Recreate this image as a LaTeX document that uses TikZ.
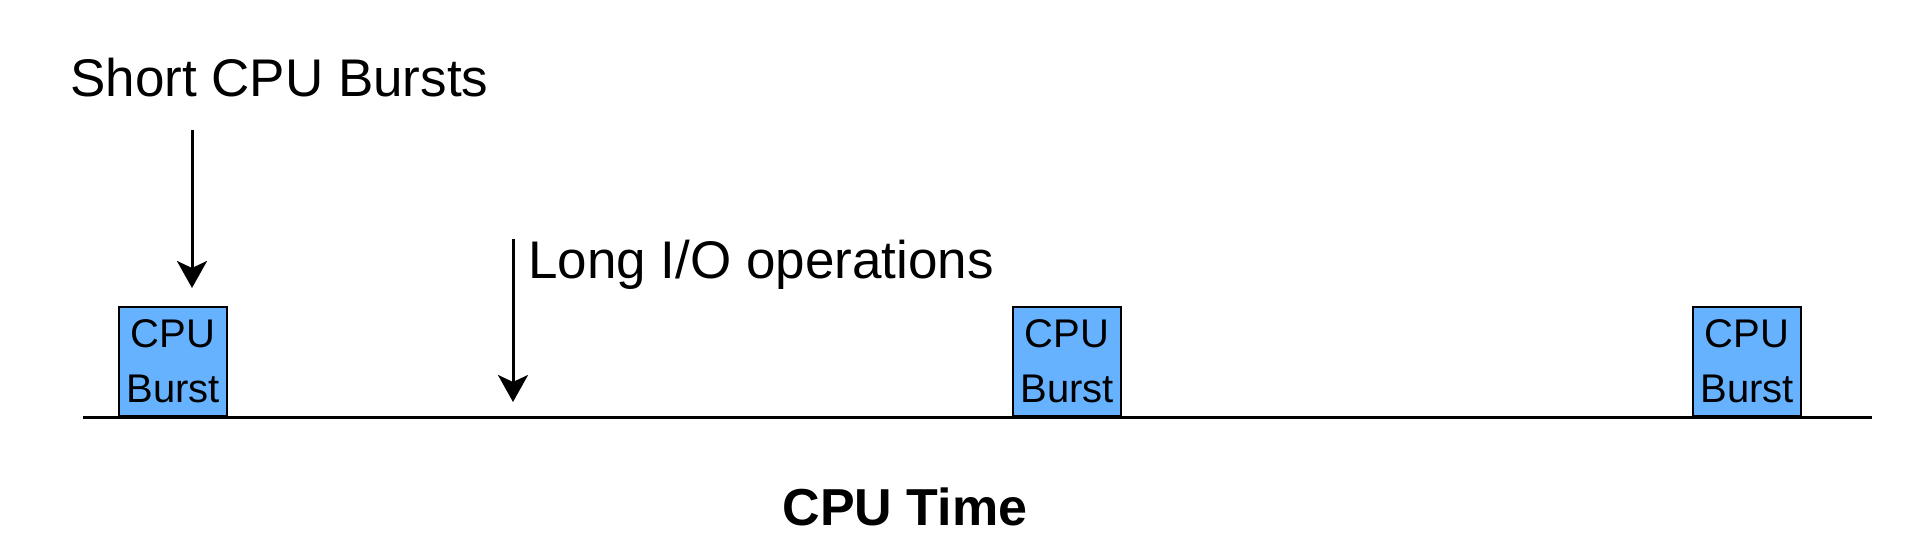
\documentclass[tikz,border=0pt]{standalone}
\usepackage{fontspec}
\setmainfont{Liberation Sans}
\usetikzlibrary{arrows.meta,calc}
\definecolor{burstblue}{HTML}{66B2FF}

\begin{document}
\begin{tikzpicture}[x=1pt,y=1pt,
	burst/.style={draw=black,line width=2.5pt,fill=burstblue,minimum width=108pt,minimum height=109pt,inner sep=0pt,align=center,anchor=south,font=\fontsize{40}{55}\selectfont},
	pointer/.style={line width=3pt,-{Stealth[length=27pt,width=30pt,inset=7pt]}},
	textlabel/.style={inner sep=0pt,font=\fontsize{53}{60}\selectfont}]
	\useasboundingbox (0,0) rectangle (1920,558);
	
	%Time axis
	\coordinate (T0) at (83,141);
	\coordinate (T1) at (1872,141);
	\draw[line width=3pt] (T0)--(T1);
	
	%Bursts on the axis
	\node[burst] (B1) at (173,141) {CPU\\Burst};
	\node[burst] (B2) at (1067,141) {CPU\\Burst};
	\node[burst] (B3) at (1747,141) {CPU\\Burst};
	
	%Labels
	\node[textlabel,anchor=base west] (short) at (70,461) {Short CPU Bursts};
	\node[textlabel,anchor=base west] (long) at (528,280) {Long I/O operations};
	\node[textlabel,anchor=base,font=\fontsize{52}{60}\selectfont\bfseries] (time) at (905,33) {CPU Time};
	
	%Pointers
	\coordinate (S0) at (192,428);
	\coordinate (S1) at (192,270);
	\coordinate (I0) at (513,319);
	\coordinate (I1) at (513,156);
	\draw[pointer] (S0)--(S1);
	\draw[pointer] (I0)--(I1);
	
\end{tikzpicture}
\end{document}
